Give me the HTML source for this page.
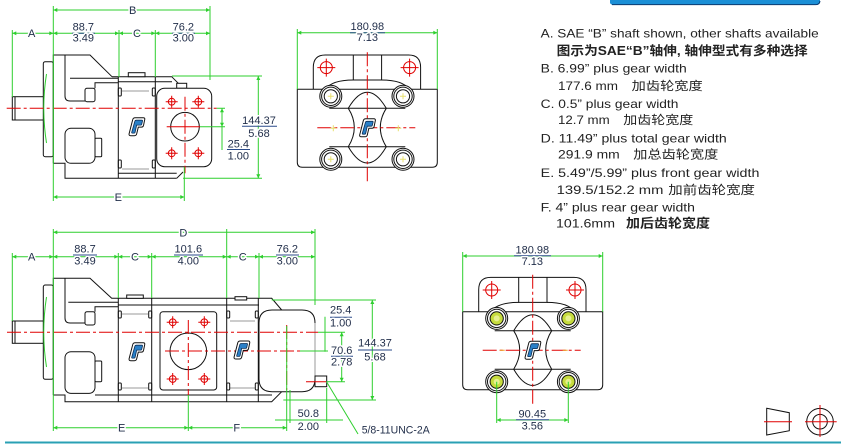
<!DOCTYPE html>
<html><head><meta charset="utf-8"><style>
html,body{margin:0;padding:0;background:#fff;}
svg{display:block;}
.g{stroke:#2ecf2e;stroke-width:1;fill:none;}
.k{stroke:#111;stroke-width:1;fill:none;}
.kf{stroke:#111;stroke-width:1;fill:#fff;}
.gr{stroke:#9a9a9a;stroke-width:1;fill:none;}
.r{stroke:#e00000;stroke-width:1;fill:none;stroke-dasharray:14 3 3 3;}
.rs{stroke:#e00000;stroke-width:1;fill:none;}
.t{font-family:"Liberation Sans",sans-serif;font-size:11px;fill:#1f2c48;text-anchor:middle;stroke:#fff;stroke-width:3;paint-order:stroke;stroke-linejoin:round;}
.fb{stroke:#2a4a8a;stroke-width:1;fill:none;}
.x{font-family:"Liberation Sans","Noto Sans CJK SC",sans-serif;font-size:12px;fill:#222;}
.xb{font-family:"Liberation Sans","Noto Sans CJK SC",sans-serif;font-size:12.5px;fill:#222;font-weight:bold;}
</style></head><body>
<svg width="841" height="444" viewBox="0 0 841 444" xmlns="http://www.w3.org/2000/svg">
<defs>
<marker id="ar" viewBox="0 0 10 10" refX="10" refY="5" markerWidth="5" markerHeight="4" orient="auto-start-reverse" markerUnits="userSpaceOnUse"><path d="M0,0 L10,5 L0,10 z" fill="#2ecf2e"/></marker>
<g id="logo">
<path d="M-2,-11 H8 Q10.5,-11 10,-8.5 L8.5,-1.5 Q8,0.5 6,0.5 H2 L0,8.5 Q-0.5,11 -3,11 H-7.5 Q-10,11 -9.5,8.5 L-5,-8.5 Q-4.5,-11 -2,-11 Z" fill="#fff" stroke="#111" stroke-width="1"/>
<path d="M-0.5,-8 H6.5 Q7.5,-8 7.3,-7 L6.3,-3 Q6,-2 5,-2 H0 L-2,7 Q-2.2,8 -3.2,8 H-5.5 Q-6.5,8 -6.3,7 L-2.3,-7 Q-2,-8 -0.5,-8 Z" fill="#2a80c8" stroke="#0d2e55" stroke-width="0.8"/>
</g>
<g id="slogo">
<path d="M-1.5,-9 H6.5 Q8.5,-9 8,-7 L6.8,-1.2 Q6.4,0.4 4.8,0.4 H1.6 L0,7 Q-0.4,9 -2.4,9 H-6 Q-8,9 -7.6,7 L-4,-7 Q-3.6,-9 -1.5,-9 Z" fill="#fff" stroke="#111" stroke-width="1"/>
<path d="M-0.4,-6.5 H5.2 Q6,-6.5 5.8,-5.7 L5,-2.4 Q4.8,-1.6 4,-1.6 H0 L-1.6,5.6 Q-1.8,6.4 -2.6,6.4 H-4.4 Q-5.2,6.4 -5,5.6 L-1.8,-5.7 Q-1.6,-6.5 -0.4,-6.5 Z" fill="#2a80c8" stroke="#0d2e55" stroke-width="0.8"/>
</g>
<g id="hole">
<circle r="3.4" class="rs"/><path class="rs" d="M-6,0 H6 M0,-6 V6"/>
</g>
<g id="fhole">
<circle r="6" class="rs"/><path class="rs" d="M-9,0 H9 M0,-9 V9"/>
</g>
<g id="fv">
<path class="kf" d="M16,0 V-22 Q16,-34.3 28,-34.3 H111.3 Q123.3,-34.3 123.3,-22 V0"/>
<path class="k" d="M56,-34.3 V-9.3 H84.3 V-34.3"/>
<path class="kf" d="M0,0 H140 V73 Q140,78 135,78 H5 Q0,78 0,73 Z"/>
<path class="k" d="M28,0 C33,-7 44,-9.3 56,-9.3 M84.3,-9.3 C96,-9.3 107,-7 112,0"/>
<path class="k" d="M32,19 H108 M32,57.5 H108"/>
<path class="k" d="M51,19 Q70,-13 89,19 M51,57.5 Q70,90 89,57.5 M51,19 Q63,38 51,57.5 M89,19 Q77,38 89,57.5"/>
<use href="#fhole" x="29" y="-21.7"/>
<use href="#fhole" x="112.3" y="-21.7"/>
<path class="r" d="M70,-37 V95"/>
<path class="r" d="M20,38.5 H118"/>
<use href="#slogo" x="70" y="38.5"/>
</g>
<g id="nutw">
<circle r="11" class="kf"/><circle r="9.2" class="k"/><circle r="6.6" fill="#fff" stroke="#111" stroke-width="1"/>
<path d="M-3,0 H3 M0,-3 V3" stroke="#e8e070" stroke-width="1"/>
</g>
<g id="nutg">
<circle r="11" class="kf"/><circle r="9.2" class="k"/><circle r="6.6" fill="#c6dc3e" stroke="#111" stroke-width="1"/>
<circle r="3" fill="#e6f090"/>
</g>
</defs>

<!-- top blue bar -->
<path d="M610,0 H820 V1.5 Q820,5 816,5 H614 Q611,5 610,3 Z" fill="#1b8fd6"/>
<path d="M612,4.6 H816 Q819.5,4.6 820,1" fill="none" stroke="#0c3b70" stroke-width="1"/>

<!-- ========== TOP-LEFT SIDE VIEW ========== -->
<g>
<rect class="kf" x="12.3" y="96.7" width="34.4" height="23.3"/>
<path class="k" d="M15,96.7 V120"/>
<rect class="kf" x="43.3" y="61.7" width="10" height="95" rx="2"/>
<path class="g" d="M46.5,74 Q41,108 46.5,143"/>
<path class="k" d="M53.3,163.3 V55 H90 L112,76.7"/>
<path class="k" d="M53.3,163.3 H65 V178.3 H176.7"/>
<path class="k" d="M65,55 V96 Q65,101 70,101 H85"/>
<rect class="k" x="85" y="88.3" width="10" height="13.4" rx="2"/>
<path class="k" d="M70,78.3 H118.3 M95,88.3 V82.7 H118.3"/>
<rect class="k" x="65" y="128.3" width="30" height="35" rx="6"/>
<rect class="k" x="95" y="138.3" width="6.7" height="18.4" rx="1"/>
<path class="k" d="M112,76.7 H171.7 L178.3,83.3 M118.3,81.7 H172"/>
<path class="k" d="M118.3,76.7 V178.3 M155.3,76.7 V178.3"/>
<rect class="kf" x="128.3" y="72.7" width="16.7" height="4"/>
<path class="gr" d="M122,91 H149 M122,169 H149"/>
<rect class="k" x="118.3" y="88" width="3" height="8" rx="1"/>
<rect class="k" x="152.3" y="88" width="3" height="8" rx="1"/>
<rect class="k" x="118.3" y="160" width="3" height="8" rx="1"/>
<rect class="k" x="152.3" y="160" width="3" height="8" rx="1"/>
<path class="k" d="M118.3,173.3 H176.7 M176.7,178.3 L183,172"/>
<rect class="k" x="176.7" y="83.3" width="10" height="5"/>
<rect class="kf" x="156.7" y="88.3" width="55" height="78.4" rx="8"/>
<circle class="k" cx="185" cy="126.7" r="14.3"/>
<use href="#hole" x="171.7" y="101.7"/>
<use href="#hole" x="198.3" y="101.7"/>
<use href="#hole" x="171.7" y="153.3"/>
<use href="#hole" x="198.3" y="153.3"/>
<path class="r" d="M6.7,108.3 H216.7"/>
<path class="r" d="M185,96.7 V173.3"/>
<path class="rs" d="M166.7,126.7 H200"/>
<use href="#slogo" x="136.7" y="126.7"/>
<!-- dims -->
<path class="g" d="M53.3,10 H210" marker-start="url(#ar)" marker-end="url(#ar)"/>
<path class="g" d="M53.3,6 V201 M210,6 V80"/>
<path class="g" d="M12.3,33.3 H53.3" marker-start="url(#ar)" marker-end="url(#ar)"/>
<path class="g" d="M53.3,33.3 H119" marker-start="url(#ar)" marker-end="url(#ar)"/>
<path class="g" d="M119,33.3 H155.3" marker-start="url(#ar)" marker-end="url(#ar)"/>
<path class="g" d="M155.3,33.3 H210" marker-start="url(#ar)" marker-end="url(#ar)"/>
<path class="g" d="M12.3,30 V97 M119,30 V77 M155.3,30 V77"/>
<path class="g" d="M53.3,197 H184.3" marker-start="url(#ar)" marker-end="url(#ar)"/>
<path class="g" d="M184.3,167 V201"/>
<path class="g" d="M172,76 H262 M183,178.3 H262"/>
<path class="g" d="M258.3,76 V178.3" marker-start="url(#ar)" marker-end="url(#ar)"/>
<path class="g" d="M200,126.7 H225 M216.7,108.3 H225"/>
<path class="g" d="M222,108.3 V126.7" marker-start="url(#ar)" marker-end="url(#ar)"/>
<path class="g" d="M222,126.7 V150"/>
<text class="t" x="132.7" y="14">B</text>
<text class="t" x="31.7" y="37">A</text>
<text class="t" x="83.3" y="30.5">88.7</text>
<path class="fb" d="M72,33.3 H95"/>
<text class="t" x="83.3" y="41.7">3.49</text>
<text class="t" x="137" y="37">C</text>
<text class="t" x="183.3" y="30.5">76.2</text>
<path class="fb" d="M172,33.3 H195"/>
<text class="t" x="183.3" y="41.7">3.00</text>
<text class="t" x="118.3" y="201">E</text>
<text class="t" x="259" y="124">144.37</text>
<path class="fb" d="M242,126.3 H277"/>
<text class="t" x="259" y="137">5.68</text>
<text class="t" x="238.3" y="147.5">25.4</text>
<path class="fb" d="M227,149.5 H250"/>
<text class="t" x="238.3" y="159.5">1.00</text>
</g>

<!-- ========== TOP-MIDDLE FRONT VIEW ========== -->
<g transform="translate(297.3,89.3)">
<use href="#fv"/>
<use href="#nutw" x="33.5" y="7"/>
<use href="#nutw" x="105.7" y="7"/>
<use href="#nutw" x="33.5" y="70"/>
<use href="#nutw" x="105.7" y="70"/>
<path d="M33,39 H39 M36,36 V42 M98,39 H104 M101,36 V42" stroke="#e8e070" stroke-width="1"/>
</g>
<path class="g" d="M297.3,32.7 H437.3" marker-start="url(#ar)" marker-end="url(#ar)"/>
<path class="g" d="M297.3,29 V89.3 M437.3,29 V89.3"/>
<text class="t" x="367.3" y="30">180.98</text>
<path class="fb" d="M350,32.7 H385"/>
<text class="t" x="367.3" y="41">7.13</text>

<!-- ========== RIGHT TEXT ========== -->
<text class="x" x="540.7" y="37.7" textLength="278" lengthAdjust="spacingAndGlyphs">A. SAE “B” shaft shown, other shafts available</text>
<text class="xb" x="556.7" y="55" textLength="251" lengthAdjust="spacingAndGlyphs">图示为SAE“B”轴伸, 轴伸型式有多种选择</text>
<text class="x" x="540.7" y="72.7" textLength="146" lengthAdjust="spacingAndGlyphs">B. 6.99” plus gear width</text>
<text class="x" x="558" y="89.8" textLength="60" lengthAdjust="spacingAndGlyphs">177.6 mm</text>
<text class="x" x="631.7" y="89.8" textLength="71" lengthAdjust="spacingAndGlyphs" font-size="13">加齿轮宽度</text>
<text class="x" x="540.7" y="108" textLength="137.7" lengthAdjust="spacingAndGlyphs">C. 0.5” plus gear width</text>
<text class="x" x="558" y="124" textLength="51.7" lengthAdjust="spacingAndGlyphs">12.7 mm</text>
<text class="x" x="623.3" y="124" textLength="70" lengthAdjust="spacingAndGlyphs" font-size="13">加齿轮宽度</text>
<text class="x" x="540.7" y="142.5" textLength="186" lengthAdjust="spacingAndGlyphs">D. 11.49” plus total gear width</text>
<text class="x" x="558" y="158.3" textLength="61.7" lengthAdjust="spacingAndGlyphs">291.9 mm</text>
<text class="x" x="633.3" y="158.3" textLength="85" lengthAdjust="spacingAndGlyphs" font-size="13">加总齿轮宽度</text>
<text class="x" x="540.7" y="177.2" textLength="218.7" lengthAdjust="spacingAndGlyphs">E. 5.49”/5.99” plus front gear width</text>
<text class="x" x="556.7" y="194" textLength="106.7" lengthAdjust="spacingAndGlyphs">139.5/152.2 mm</text>
<text class="x" x="668.3" y="194" textLength="86.7" lengthAdjust="spacingAndGlyphs" font-size="13">加前齿轮宽度</text>
<text class="x" x="540.7" y="211.5" textLength="154.3" lengthAdjust="spacingAndGlyphs">F.  4” plus rear gear width</text>
<text class="x" x="556" y="227.3" textLength="59" lengthAdjust="spacingAndGlyphs">101.6mm</text>
<text class="xb" x="626" y="227.3" textLength="84" lengthAdjust="spacingAndGlyphs" font-size="13">加后齿轮宽度</text>

<!-- ========== BOTTOM-LEFT SIDE VIEW ========== -->
<g>
<rect class="kf" x="12.3" y="321" width="34.4" height="22.3"/>
<path class="k" d="M15,321 V343.3"/>
<rect class="kf" x="43.3" y="285" width="10" height="94.3" rx="2"/>
<path class="g" d="M46.5,297 Q41,332 46.5,367"/>
<path class="k" d="M53.3,395 V278.3 H90 L111.7,298.3 H271.7 L281.7,310"/>
<path class="k" d="M53.3,395 H65 V401.7 H271.7 L281.7,391.7"/>
<path class="k" d="M65,278.3 V318 Q65,323 70,323 H85"/>
<rect class="k" x="85" y="311.7" width="10" height="13.3" rx="2"/>
<path class="k" d="M68.3,302.3 H118.3 M95,311.7 V306.7 H118.3"/>
<rect class="k" x="65" y="351.7" width="30" height="41.7" rx="6"/>
<rect class="k" x="95" y="361" width="6.7" height="20.7" rx="1"/>
<path class="k" d="M118.3,298.3 V401.7 M151.7,298.3 V401.7 M226.7,298.3 V401.7 M258.3,298.3 V401.7"/>
<path class="k" d="M118.3,305 H259 M95,395 H272"/>
<rect class="kf" x="126.7" y="295" width="16.6" height="3.3"/>
<rect class="kf" x="235" y="296.7" width="11.7" height="3.3"/>
<path class="gr" d="M122,314 H148 M122,388 H148 M230,321 H255 M230,388 H255"/>
<rect class="k" x="118.3" y="311" width="3" height="7" rx="1"/>
<rect class="k" x="148.7" y="311" width="3" height="7" rx="1"/>
<rect class="k" x="118.3" y="383" width="3" height="7" rx="1"/>
<rect class="k" x="148.7" y="383" width="3" height="7" rx="1"/>
<rect class="k" x="226.7" y="311" width="3" height="7" rx="1"/>
<rect class="k" x="255.3" y="311" width="3" height="7" rx="1"/>
<rect class="k" x="226.7" y="383" width="3" height="7" rx="1"/>
<rect class="k" x="255.3" y="383" width="3" height="7" rx="1"/>
<rect class="kf" x="160" y="311.7" width="56.7" height="78.3" rx="3"/>
<circle class="k" cx="188.3" cy="351.3" r="18.3"/>
<use href="#hole" x="172.7" y="322.3"/>
<use href="#hole" x="204.3" y="322.3"/>
<use href="#hole" x="172.7" y="379"/>
<use href="#hole" x="204.3" y="379"/>
<path class="kf" d="M272,310 H302 Q315,310 315,323 V378.7 Q315,391.7 302,391.7 H272 Q259,391.7 259,378.7 V323 Q259,310 272,310 Z"/>
<path class="gr" d="M315,323 V378"/>
<path class="k" d="M259,323 V379" stroke-width="1.6"/>
<rect class="kf" x="315" y="376" width="11.7" height="10.7"/>
<path class="r" d="M7,332.3 H318"/>
<path class="r" d="M165,351 H300"/>
<path class="r" d="M188.3,320 V395"/>
<path class="r" d="M286.7,325 V390"/>
<path class="rs" d="M306,381.7 H326"/>
<use href="#slogo" x="136.7" y="351.7"/>
<use href="#slogo" x="241.7" y="350"/>
<!-- dims -->
<path class="g" d="M53.3,232.3 H315" marker-start="url(#ar)" marker-end="url(#ar)"/>
<path class="g" d="M53.3,229 V431 M315,229 V305"/>
<path class="g" d="M12.3,256.7 H53.3" marker-start="url(#ar)" marker-end="url(#ar)"/>
<path class="g" d="M53.3,256.7 H118.3" marker-start="url(#ar)" marker-end="url(#ar)"/>
<path class="g" d="M118.3,256.7 H151.7" marker-start="url(#ar)" marker-end="url(#ar)"/>
<path class="g" d="M151.7,256.7 H226.7" marker-start="url(#ar)" marker-end="url(#ar)"/>
<path class="g" d="M226.7,256.7 H259" marker-start="url(#ar)" marker-end="url(#ar)"/>
<path class="g" d="M259,256.7 H315" marker-start="url(#ar)" marker-end="url(#ar)"/>
<path class="g" d="M12.3,253 V321 M118.3,253 V298 M151.7,253 V298 M226.7,229 V298 M259,253 V298"/>
<path class="g" d="M53.3,427.7 H188.3" marker-start="url(#ar)" marker-end="url(#ar)"/>
<path class="g" d="M188.3,395 V431"/>
<path class="g" d="M188.3,427.7 H286.7" marker-start="url(#ar)" marker-end="url(#ar)"/>
<path class="g" d="M286.7,326 V431"/>
<path class="g" d="M275,420 H343 M290,390 V423 M326.7,388 V423"/>
<path class="g" d="M271.7,300 H376 M283.3,400 H376"/>
<path class="g" d="M372.3,300 V400" marker-start="url(#ar)" marker-end="url(#ar)"/>
<path class="g" d="M325,316.7 V351.7 M318,332.3 H345 M300,351 H328"/>
<path class="g" d="M341.7,332.3 V381.7" marker-start="url(#ar)" marker-end="url(#ar)"/>
<path class="g" d="M326.7,381.7 H345"/>
<path class="g" d="M326.7,382 L358,434"/>
<text class="t" x="183.3" y="236.7">D</text>
<text class="t" x="31.7" y="260.5">A</text>
<text class="t" x="85" y="252.3">88.7</text>
<path class="fb" d="M73,255 H97"/>
<text class="t" x="85" y="264.5">3.49</text>
<text class="t" x="135" y="260.5">C</text>
<text class="t" x="188.3" y="252.3">101.6</text>
<path class="fb" d="M174,255 H203"/>
<text class="t" x="188.3" y="264.5">4.00</text>
<text class="t" x="242.7" y="260.5">C</text>
<text class="t" x="287.3" y="252.3">76.2</text>
<path class="fb" d="M276,255 H299"/>
<text class="t" x="287.3" y="264.5">3.00</text>
<text class="t" x="121.7" y="431.5">E</text>
<text class="t" x="236.7" y="431.5">F</text>
<text class="t" x="308.3" y="417">50.8</text>
<text class="t" x="308.3" y="430">2.00</text>
<text class="t" x="375" y="346.7">144.37</text>
<path class="fb" d="M358,350 H392"/>
<text class="t" x="375" y="360.7">5.68</text>
<text class="t" x="340.7" y="313.3">25.4</text>
<path class="fb" d="M330,317.2 H352"/>
<text class="t" x="340.7" y="326.7">1.00</text>
<text class="t" x="341.7" y="354">70.6</text>
<path class="fb" d="M331,356.3 H353"/>
<text class="t" x="341.7" y="365.7">2.78</text>
<text class="t" x="361.7" y="433.3" style="text-anchor:start" textLength="68" lengthAdjust="spacingAndGlyphs">5/8-11UNC-2A</text>
</g>

<!-- ========== BOTTOM-RIGHT FRONT VIEW ========== -->
<g transform="translate(462.7,311.7)">
<use href="#fv"/>
<use href="#nutg" x="34" y="6.7"/>
<use href="#nutg" x="105.7" y="6.7"/>
<use href="#nutg" x="34" y="70"/>
<use href="#nutg" x="105.7" y="70"/>
<path d="M37,38.5 H42 M100,38.5 H105" stroke="#f0a020" stroke-width="1"/>
</g>
<path class="g" d="M462.7,256 H602.7" marker-start="url(#ar)" marker-end="url(#ar)"/>
<path class="g" d="M462.7,252 V311.7 M602.7,252 V311.7"/>
<text class="t" x="532.3" y="253.3">180.98</text>
<path class="fb" d="M514,255.8 H551"/>
<text class="t" x="532.3" y="265">7.13</text>
<path class="g" d="M496.7,420 H568.3" marker-start="url(#ar)" marker-end="url(#ar)"/>
<path class="g" d="M496.7,381.7 V423 M568.3,381.7 V423"/>
<text class="t" x="532.3" y="417.3">90.45</text>
<path class="fb" d="M516,419.7 H549"/>
<text class="t" x="532.3" y="429.5">3.56</text>

<!-- corner symbol -->
<polygon points="766.7,408.3 789.3,412.7 789.3,430.7 766.7,435" fill="none" stroke="#111" stroke-width="1"/>
<path class="rs" d="M764,421.7 H792"/>
<circle cx="820" cy="421.7" r="13.3" class="k"/>
<circle cx="820" cy="421.7" r="7.3" class="k"/>
<path class="rs" d="M805,421.7 H836.7 M820,405 V437"/>

<!-- bottom rule -->
<path d="M5,442.5 H841" stroke="#2aa0b4" stroke-width="2"/>
</svg>
</body></html>
